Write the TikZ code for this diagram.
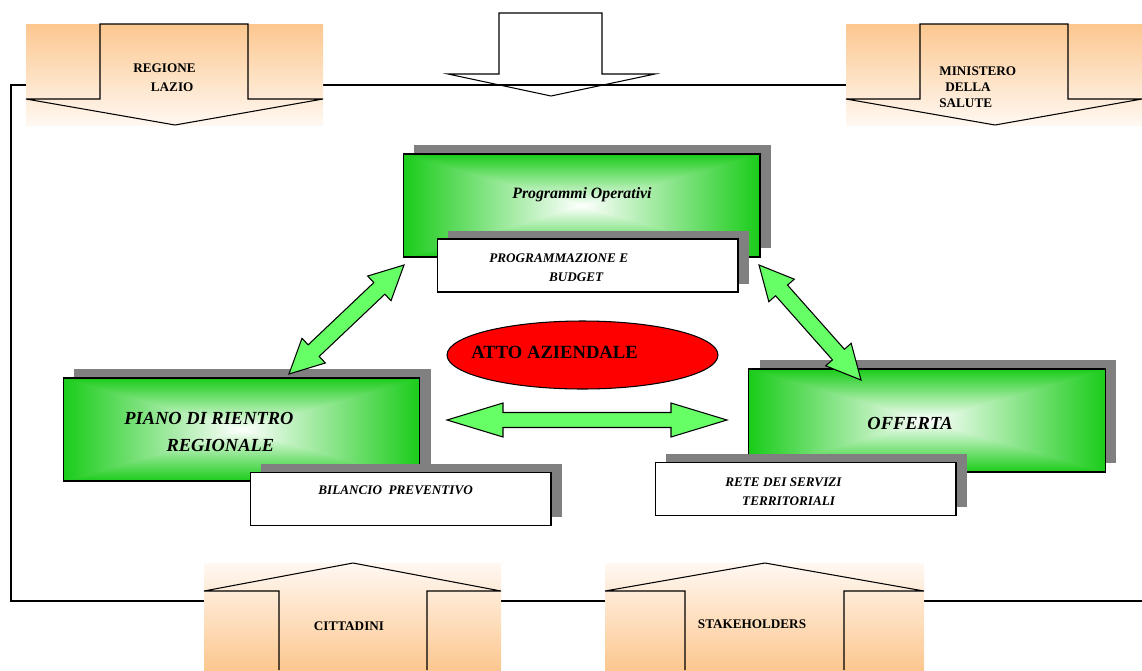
\documentclass[tikz,border=0pt]{standalone}
\usepackage{fontspec}
\setmainfont{Liberation Serif}
\usetikzlibrary{calc,shapes.geometric,shadows}
\definecolor{boxgreen}{RGB}{25,204,25}
\definecolor{arrowgreen}{RGB}{102,255,102}
\definecolor{peach}{RGB}{252,199,143}
\definecolor{peachlight}{RGB}{255,248,242}
\definecolor{shadowgray}{RGB}{128,128,128}
\definecolor{attored}{RGB}{255,0,0}

\pgfdeclarefunctionalshading{rectglow}{\pgfpoint{-50bp}{-50bp}}{\pgfpoint{50bp}{50bp}}{}{%
  abs exch abs 2 copy lt {exch} if pop 25 div
  dup 1 gt {pop 1} if
  dup 0.9 mul 1 exch sub
  exch dup 0.2 mul 1 exch sub
  exch 0.9 mul 1 exch sub
}

\newcommand{\dblarrow}[5]{%
  \coordinate (ha) at ($(#1)!#5!(#2)$);
  \coordinate (hb) at ($(#2)!#5!(#1)$);
  \draw[fatarr] (#1) -- ($(ha)!#4!90:(#2)$) -- ($(ha)!#3!90:(#2)$)
    -- ($(hb)!#3!-90:(#1)$) -- ($(hb)!#4!-90:(#1)$) -- (#2)
    -- ($(hb)!#4!90:(#1)$) -- ($(hb)!#3!90:(#1)$)
    -- ($(ha)!#3!-90:(#2)$) -- ($(ha)!#4!-90:(#2)$) -- cycle;
}

\begin{document}
\begin{tikzpicture}[
    x=0.02cm, y=-0.02cm,
    outline/.style={draw=black, line width=0.6pt, line join=miter},
    greenbox/.style={draw=black, line width=0.6pt, shading=rectglow,
                minimum width=7.14cm, minimum height=2.06cm, inner sep=0pt,
                drop shadow={shadow xshift=0.22cm, shadow yshift=0.18cm,
                             fill=shadowgray, opacity=1}},
    whitebox/.style={draw=black, line width=0.6pt, fill=white,
                minimum width=6.02cm, minimum height=1.06cm, inner sep=0pt,
                drop shadow={shadow xshift=0.22cm, shadow yshift=0.17cm,
                             fill=shadowgray, opacity=1}},
    fatarr/.style={draw=black, line width=0.6pt, fill=arrowgreen, line join=miter},
    smallcap/.style={font=\fontsize{7.5}{10.5}\selectfont\bfseries, inner sep=0pt, align=left},
    smallit/.style={font=\fontsize{7.5}{11}\selectfont\bfseries\itshape, inner sep=0pt, align=left},
    medit/.style={font=\fontsize{9}{11}\selectfont\bfseries\itshape, inner sep=0pt},
    bigit/.style={font=\fontsize{10.5}{15.3}\selectfont\bfseries\itshape, inner sep=0pt, align=left},
    bigbold/.style={font=\fontsize{10.6}{13}\selectfont\bfseries, inner sep=0pt}
]
\useasboundingbox (0,0) rectangle (1142,670);

\draw[line width=0.6pt] (1142,85) -- (11,85) -- (11,601) -- (1142,601);

\shade[top color=peach, bottom color=peachlight] (26,24) rectangle (323,125);
\draw[outline] (26,99) -- (100,99) -- (100,24) -- (248,24) -- (248,99) -- (323,99) -- (175,125) -- cycle;
\shade[top color=peach, bottom color=peachlight] (846,24) rectangle (1142,125);
\draw[outline] (846,99) -- (920,99) -- (920,24) -- (1068,24) -- (1068,99) -- (1142,99) -- (995,125) -- cycle;
\draw[outline] (448,74) -- (499,74) -- (499,13) -- (602,13) -- (602,74) -- (655,74) -- (551,96) -- cycle;

\shade[top color=peachlight, bottom color=peach] (204,563) rectangle (501,670);
\draw[outline] (279,670) -- (279,591) -- (204,591) -- (353,563) -- (501,591) -- (427,591) -- (427,670);
\shade[top color=peachlight, bottom color=peach] (605,563) rectangle (924,670);
\draw[outline] (685,670) -- (685,591) -- (605,591) -- (765,563) -- (924,591) -- (844,591) -- (844,670);

\node[smallcap, anchor=north west] (regione) at (133,63.5) {REGIONE\\\hspace*{10pt}LAZIO};
\node[smallcap, anchor=north west, font=\fontsize{7.5}{9.1}\selectfont\bfseries] (ministero) at (939,66.5) {MINISTERO\\\hspace*{3.4pt}DELLA\\SALUTE};
\node[smallcap] (cittadini) at (349,626) {CITTADINI};
\node[smallcap] (stake) at (752,624) {STAKEHOLDERS};

\node[greenbox] (progop) at (581.5,205.5) {};
\node[whitebox] (budget) at (587.5,265.5) {};
\node[greenbox] (piano) at (241.5,429.5) {};
\node[whitebox] (bilancio) at (400.5,499) {};
\node[greenbox] (offerta) at (927,420.5) {};
\node[whitebox] (rete) at (805.5,489) {};

\node[medit, anchor=north west] (progtext) at (512,187.5) {Programmi Operativi};
\node[smallit, anchor=north west] (budgettext) at (489,253.5) {PROGRAMMAZIONE E\\\hspace*{34pt}BUDGET};
\node[bigit, anchor=north west] (pianotext) at (124,412) {PIANO DI RIENTRO\\\hspace*{24pt}REGIONALE};
\node[smallit, anchor=north west] (bilanciotext) at (318,485.5) {BILANCIO\ \ PREVENTIVO};
\node[bigit] (offertatext) at (910,423) {OFFERTA};
\node[smallit, anchor=north west] (retetext) at (725,477.5) {RETE DEI SERVIZI\\\hspace*{9.6pt}TERRITORIALI};

\node[ellipse, draw=black, line width=0.6pt, fill=attored, minimum width=5.42cm, minimum height=1.36cm] (atto) at (582.5,355) {};
\node[bigbold, anchor=west] (attotext) at (471,352) {ATTO AZIENDALE};

\coordinate (lta) at (404,265);
\coordinate (ltb) at (289,374);
\coordinate (rta) at (759,265);
\coordinate (rtb) at (861,380);
\coordinate (hza) at (447,420);
\coordinate (hzb) at (727,420);
\dblarrow{lta}{ltb}{0.16cm}{0.34cm}{0.68cm}
\dblarrow{rta}{rtb}{0.16cm}{0.34cm}{0.68cm}
\dblarrow{hza}{hzb}{0.15cm}{0.34cm}{1.12cm}
\end{tikzpicture}
\end{document}
